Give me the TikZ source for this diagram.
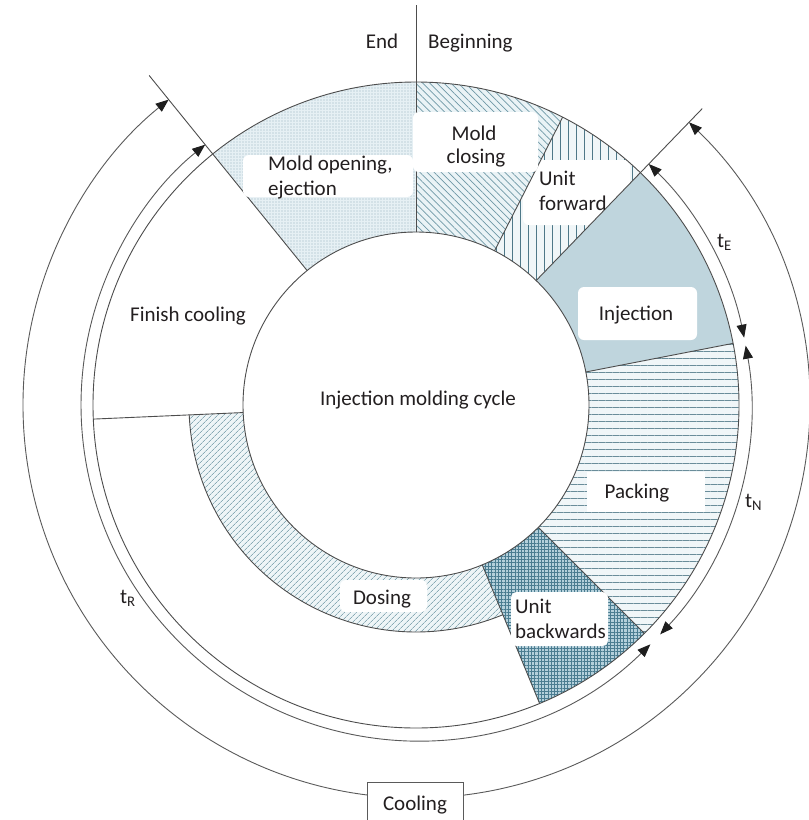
\documentclass[tikz,border=0pt]{standalone}
\usepackage{fontspec}
\setmainfont{Carlito}
\usetikzlibrary{patterns.meta,arrows.meta}
\definecolor{linec}{HTML}{4D4D4D}
\definecolor{arcc}{HTML}{5A5A5A}
\definecolor{tipc}{HTML}{1E1E1E}
\definecolor{txtc}{HTML}{231F20}
\definecolor{mobg}{HTML}{E6F0F4}
\definecolor{modot}{HTML}{98B2BD}
\definecolor{mcbg}{HTML}{EAF3F6}
\definecolor{mcline}{HTML}{6E98A6}
\definecolor{ufbg}{HTML}{F0F6F8}
\definecolor{ufline}{HTML}{4E7888}
\definecolor{injbg}{HTML}{D3E4EA}
\definecolor{injdot}{HTML}{7FA5B5}
\definecolor{pkbg}{HTML}{F0F6F8}
\definecolor{pkline}{HTML}{6A8D9A}
\definecolor{ubbg}{HTML}{B4D0DB}
\definecolor{ubline}{HTML}{4A7C90}
\definecolor{dsbg}{HTML}{EEF5F7}
\definecolor{dsline}{HTML}{88AAB5}
\begin{document}
\begin{tikzpicture}[x=1pt,y=1pt,
  bnd/.style={draw=linec, line width=0.9pt},
  arcarr/.style={draw=arcc, line width=0.9pt,
    {Triangle[length=13pt,width=10pt,color=tipc]}-{Triangle[length=13pt,width=10pt,color=tipc]}},
  lbl/.style={font=\fontsize{21}{25}\selectfont, text=txtc, inner sep=0pt},
  wbox/.style={fill=white, rounded corners=6pt},
  mopen/.style={fill=mobg, postaction={pattern={Dots[distance=3pt,radius=0.55pt]}, pattern color=modot}},
  mclose/.style={fill=mcbg, postaction={pattern={Lines[angle=-45,distance=5pt,line width=0.7pt]}, pattern color=mcline}},
  ufwd/.style={fill=ufbg, postaction={pattern={Lines[angle=90,distance=8pt,line width=1pt]}, pattern color=ufline}},
  injfill/.style={fill=injbg, postaction={pattern={Dots[distance=2pt,radius=0.6pt]}, pattern color=injdot}},
  packfill/.style={fill=pkbg, postaction={pattern={Lines[angle=0,distance=7pt,line width=0.9pt]}, pattern color=pkline}},
  ubfill/.style={fill=ubbg, postaction={pattern={Hatch[angle=0,distance=3.3pt,line width=0.5pt]}, pattern color=ubline}},
  dosfill/.style={fill=dsbg, postaction={pattern={Lines[angle=45,distance=4pt,line width=0.7pt]}, pattern color=dsline}}
]
\useasboundingbox (0,0) rectangle (809,-820);
\fill[white] (0,0) rectangle (809,-820);

\begin{scope}[shift={(416,-405)}]
  % segments
  \path[mopen] (90:173) arc[start angle=90,end angle=129,radius=173] -- (129:323) arc[start angle=129,end angle=90,radius=323] -- cycle;
  \path[mclose] (63:173) arc[start angle=63,end angle=90,radius=173] -- (90:323) arc[start angle=90,end angle=63,radius=323] -- cycle;
  \path[ufwd] (46:173) arc[start angle=46,end angle=63,radius=173] -- (63:323) arc[start angle=63,end angle=46,radius=323] -- cycle;
  \path[injfill] (11:173) arc[start angle=11,end angle=46,radius=173] -- (46:323) arc[start angle=46,end angle=11,radius=323] -- cycle;
  \path[packfill] (-45:173) arc[start angle=-45,end angle=11,radius=173] -- (11:323) arc[start angle=11,end angle=-45,radius=323] -- cycle;
  \path[ubfill] (-67.5:173) arc[start angle=-67.5,end angle=-45,radius=173] -- (-45:323) arc[start angle=-45,end angle=-67.5,radius=323] -- cycle;
  \path[dosfill] (182.5:173) arc[start angle=182.5,end angle=292.5,radius=173] -- (292.5:227) arc[start angle=292.5,end angle=182.5,radius=227] -- cycle;

  % white label backing for "Unit forward", kept inside its segment
  \begin{scope}
    \clip (46:173) arc[start angle=46,end angle=63,radius=173] -- (63:323) arc[start angle=63,end angle=46,radius=323] -- cycle;
    \fill[wbox] (107,245) rectangle (214,180);
  \end{scope}

  % circles and arcs
  \draw[bnd] (0,0) circle[radius=173];
  \draw[bnd] (0,0) circle[radius=323];
  \draw[bnd] (182.5:227) arc[start angle=182.5,end angle=292.5,radius=227];

  % radial boundaries
  \draw[draw=linec, line width=0.8pt] (90:173) -- (90:400);
  \draw[bnd] (129:173) -- (129:424);
  \draw[bnd] (46:173) -- (46:412);
  \draw[bnd] (63:173) -- (63:323);
  \draw[bnd] (11:173) -- (11:323);
  \draw[bnd] (-45:173) -- (-45:323);
  \draw[bnd] (-67.5:173) -- (-67.5:323);
  \draw[bnd] (182.5:173) -- (182.5:323);

  % time arrows
  \draw[arcarr] (46:335) arc[start angle=46,end angle=11.6,radius=335];
  \draw[arcarr] (10.2:335) arc[start angle=10.2,end angle=-43.2,radius=335];
  \draw[arcarr] (-45.6:335) arc[start angle=-45.6,end angle=-231,radius=335];
  \draw[arcarr] (46:393) arc[start angle=46,end angle=-231,radius=393];
\end{scope}

% white label boxes
\fill[wbox] (243,-155) rectangle (413,-197);
\fill[wbox] (413,-112) rectangle (538,-172);
\fill[wbox] (578,-287) rectangle (697,-340);
\fill[white] (587,-472) rectangle (705,-512);
\fill[wbox] (340,-580) rectangle (427,-612);
\fill[wbox] (511,-592) rectangle (608,-646);
\filldraw[fill=white, draw=arcc, line width=0.8pt] (367,-782) rectangle (463,-830);

% labels
\node[lbl, anchor=base] (endl) at (382,-48) {End};
\node[lbl, anchor=base west] (begl) at (428,-48) {Beginning};
\node[lbl, anchor=base west] (mo1) at (268,-170) {Mold opening,};
\node[lbl, anchor=base west] (mo2) at (268,-195) {ejection};
\node[lbl, anchor=base] (mc1) at (474,-140) {Mold};
\node[lbl, anchor=base] (mc2) at (476,-163) {closing};
\node[lbl, anchor=base west] (uf1) at (539,-185) {Unit};
\node[lbl, anchor=base west] (uf2) at (539,-210) {forward};
\node[lbl, anchor=base] (inj) at (636,-320) {Injection};
\node[lbl, anchor=base] (pack) at (637,-498) {Packing};
\node[lbl, anchor=base] (dos) at (382,-604) {Dosing};
\node[lbl, anchor=base west] (ub1) at (515,-613) {Unit};
\node[lbl, anchor=base west] (ub2) at (515,-638) {backwards};
\node[lbl, anchor=base] (fc) at (188,-321) {Finish cooling};
\node[lbl, anchor=base] (cyc) at (418,-405) {Injection molding cycle};
\node[lbl, anchor=base] (cool) at (415,-810) {Cooling};
\node[lbl, anchor=base west] (te) at (717,-247) {t\textsubscript{E}};
\node[lbl, anchor=base west] (tn) at (745,-507) {t\textsubscript{N}};
\node[lbl, anchor=base west] (tr) at (120,-603) {t\textsubscript{R}};
\end{tikzpicture}
\end{document}
